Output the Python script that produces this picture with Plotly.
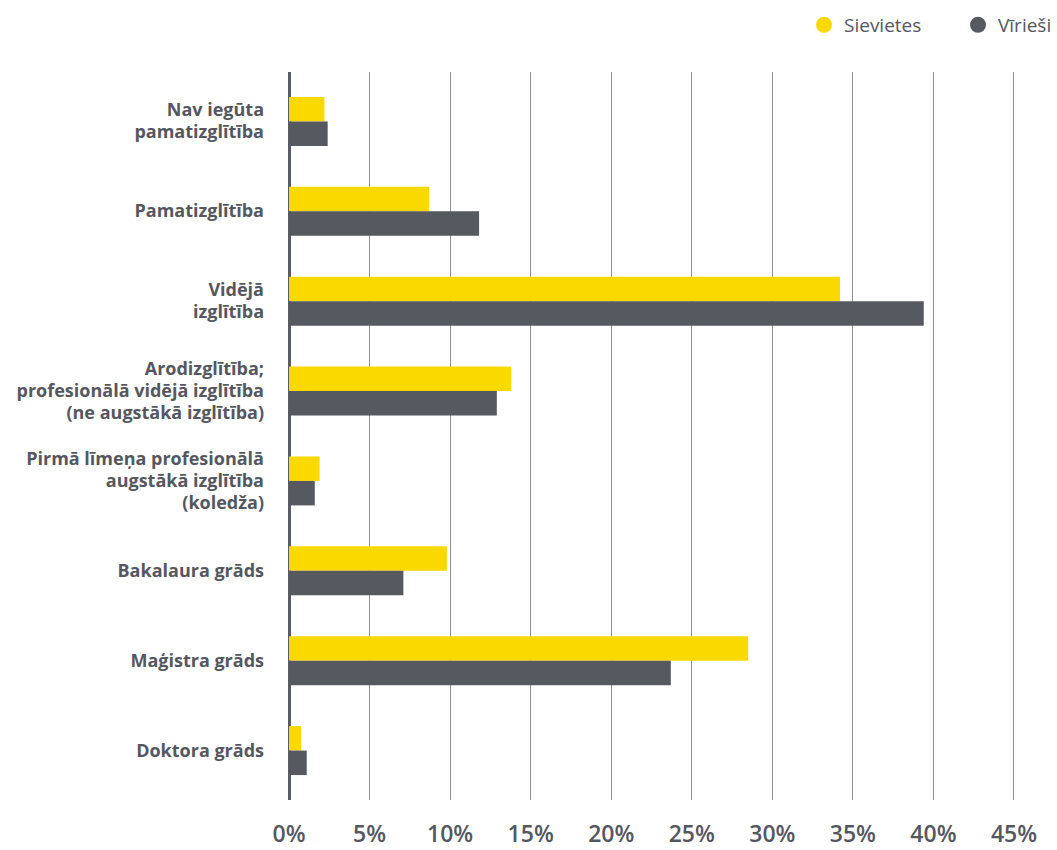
import plotly.graph_objects as go

categories = [
    "Nav iegūta<br>pamatizglītība",
    "Pamatizglītība",
    "Vidējā<br>izglītība",
    "Arodizglītība;<br>profesionālā vidējā izglītība<br>(ne augstākā izglītība)",
    "Pirmā līmeņa profesionālā<br>augstākā izglītība<br>(koledža)",
    "Bakalaura grāds",
    "Maģistra grāds",
    "Doktora grāds",
]
sievietes = [2.2, 8.7, 34.2, 13.8, 1.9, 9.8, 28.5, 0.75]
virieši = [2.4, 11.8, 39.4, 12.9, 1.6, 7.1, 23.7, 1.1]
tick_vals = [0, 5, 10, 15, 20, 25, 30, 35, 40, 45]
tick_text = [f"{v}%" for v in tick_vals]

YELLOW = "#fad900"
GRAY = "#575961"
TEXT = "#55575f"
FONT = "Open Sans, sans-serif"

W, H = 1057, 850
L, T = 289, 72
PW, PH = 729, 728
R, B = W - L - PW, H - T - PH


def big(label, size=18):
    return "<br>".join(f'<span style="font-size:{size}px">{part}</span>'
                       for part in label.split("<br>"))


cat_text = [big(c) for c in categories]

fig = go.Figure()
fig.add_trace(go.Bar(y=categories, x=sievietes, orientation="h", marker_color=YELLOW,
                     marker_line_width=0, name="Sievietes", showlegend=False))
fig.add_trace(go.Bar(y=categories, x=virieši, orientation="h", marker_color=GRAY,
                     marker_line_width=0, name="Vīrieši", showlegend=False))
# legend entries with circle markers
fig.add_trace(go.Scatter(x=[None], y=[None], mode="markers", name="Sievietes", legend="legend",
                         marker=dict(color=YELLOW, size=22, symbol="circle")))
fig.add_trace(go.Scatter(x=[None], y=[None], mode="markers", name="Vīrieši", legend="legend2",
                         marker=dict(color=GRAY, size=22, symbol="circle")))

leg_common = dict(orientation="h", yanchor="middle", xanchor="left",
                  xref="container", yref="container",
                  font=dict(size=19, color=TEXT, family=FONT), bgcolor="rgba(0,0,0,0)")
fig.update_layout(
    width=W, height=H,
    paper_bgcolor="white", plot_bgcolor="white",
    barmode="group", bargap=0.455, bargroupgap=0,
    margin=dict(l=L, r=R, t=T, b=B, autoexpand=False),
    font=dict(family=FONT, color=TEXT),
    legend=dict(x=804 / W, y=1 - 25 / H, **leg_common),
    legend2=dict(x=958 / W, y=1 - 25 / H, **leg_common),
)
fig.update_xaxes(
    range=[0, 45.25], tickvals=tick_vals, ticktext=tick_text,
    showgrid=True, gridcolor="#8d8f95", gridwidth=1,
    zeroline=True, zerolinecolor="#5a5c64", zerolinewidth=3,
    tickfont=dict(size=23, color=TEXT, family=FONT, weight=600),
    ticklabelstandoff=18, showline=False, automargin=False,
)
fig.update_yaxes(
    range=[7.55, -0.55], showgrid=False, showline=False,
    tickvals=categories, ticktext=cat_text,
    tickfont=dict(size=17, color=TEXT, family=FONT, weight=700),
    ticklabelstandoff=24, automargin=False,
)
fig.write_html("out.html", config={"displayModeBar": False},
               post_script="document.body.style.margin='0';document.body.style.overflow='hidden';")
